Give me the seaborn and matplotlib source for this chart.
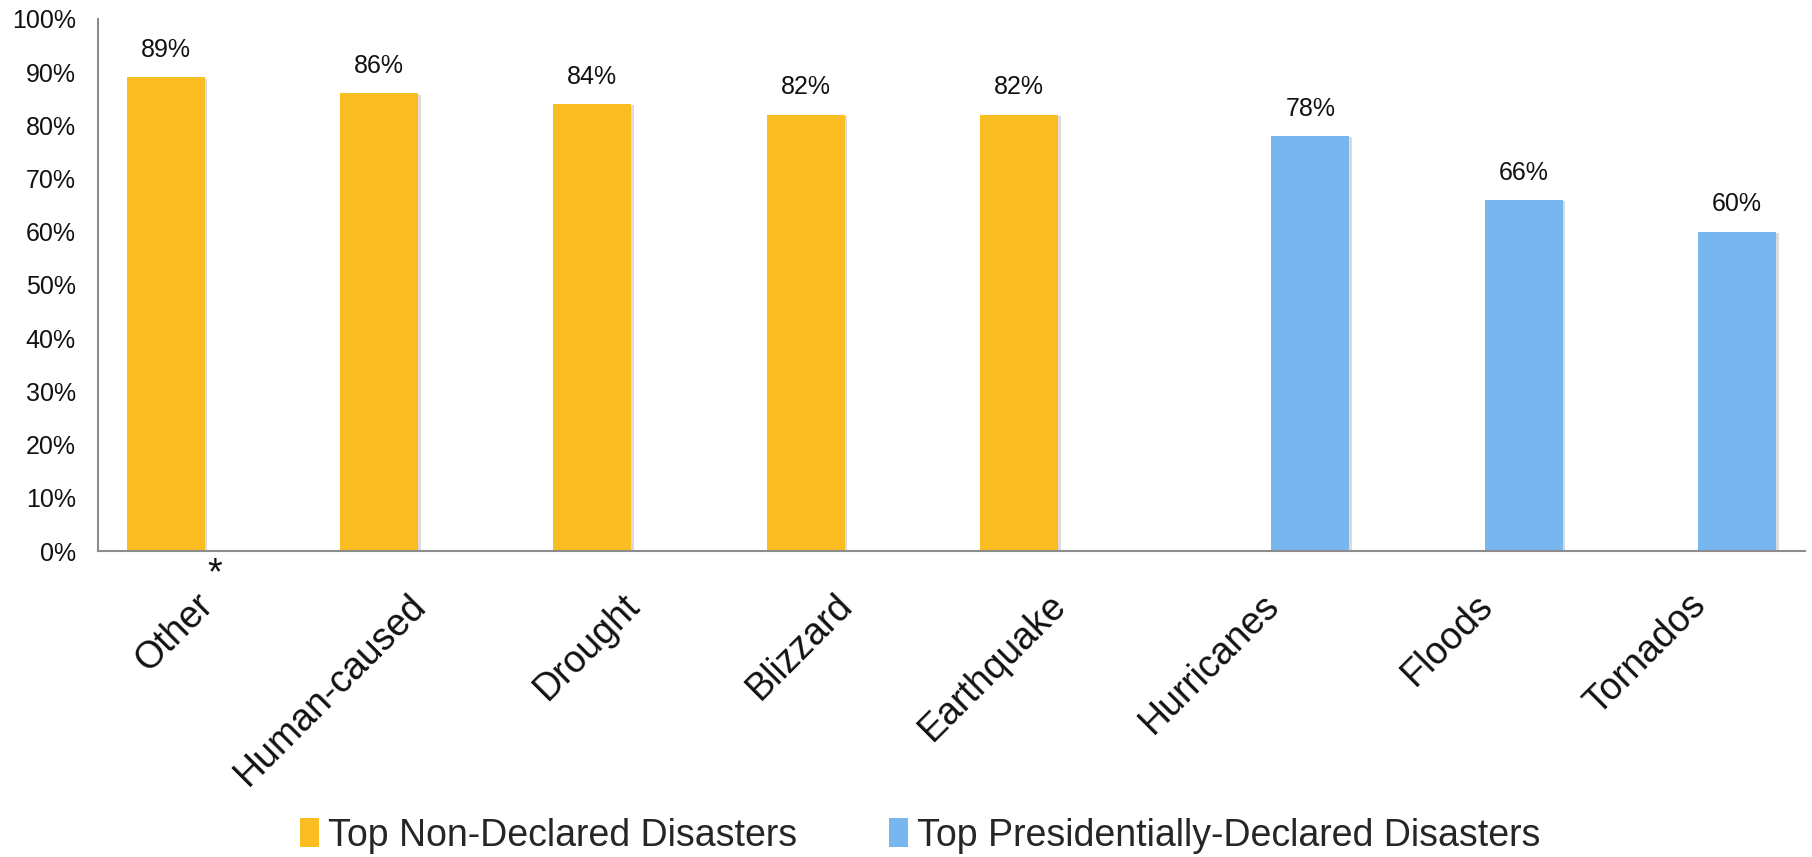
import matplotlib
matplotlib.use("Agg")
import matplotlib.pyplot as plt
import matplotlib.patheffects as pe
import matplotlib.transforms as mtransforms
from matplotlib.patches import Patch
import pandas as pd
import seaborn as sns

categories = ["Other", "Human-caused", "Drought", "Blizzard", "Earthquake",
              "Hurricanes", "Floods", "Tornados"]
values = [89, 86, 84, 82, 82, 78, 66, 60]
groups = ["Top Non-Declared Disasters"] * 5 + ["Top Presidentially-Declared Disasters"] * 3
group_order = ["Top Non-Declared Disasters", "Top Presidentially-Declared Disasters"]
colors = ["#FABE22", "#78B6F0"]
y_ticks = [0, 10, 20, 30, 40, 50, 60, 70, 80, 90, 100]
footnote_mark = "*"

df = pd.DataFrame({"category": categories, "value": values, "group": groups})

sns.set_theme(style="white")
plt.rcParams["font.family"] = ["Liberation Sans", "DejaVu Sans"]

fig = plt.figure(figsize=(18.12, 8.57), dpi=100)
ax = fig.add_axes([0.054, 0.357, 0.942, 0.621])

sns.barplot(data=df, x="category", y="value", hue="group", hue_order=group_order,
            order=categories, palette=colors, width=0.73, dodge=True,
            saturation=1, linewidth=0, legend=False, ax=ax)

shadow = [pe.SimplePatchShadow(offset=(2, -1), shadow_rgbFace="#9a9a9a", alpha=0.35),
          pe.Normal()]
for container in ax.containers:
    for bar in container:
        bar.set_path_effects(shadow)
    ax.bar_label(container, fmt="{:.0f}%", padding=11, fontsize=18, color="#111111")

ax.set_xlim(-0.5, len(categories) - 0.5)
ax.set_ylim(0, 100)
ax.set_yticks(y_ticks)
ax.set_yticklabels([f"{t}%" for t in y_ticks], fontsize=18, color="#111111")
ax.tick_params(axis="y", length=0, pad=16)
ax.tick_params(axis="x", length=0, pad=26)
ax.set_xlabel("")
ax.set_ylabel("")

offset = mtransforms.ScaledTranslation(-10 / 100, 0, fig.dpi_scale_trans)
for lbl in ax.get_xticklabels():
    lbl.set_rotation(45)
    lbl.set_ha("right")
    lbl.set_va("top")
    lbl.set_rotation_mode("anchor")
    lbl.set_fontsize(27)
    lbl.set_color("#111111")
    lbl.set_transform(lbl.get_transform() + offset)

# footnote marker beside the first category label
ax.annotate(footnote_mark, xy=(0, 0), xycoords=("data", "axes fraction"),
            xytext=(7, -4), textcoords="offset points", ha="center", va="top",
            fontsize=27, color="#111111", annotation_clip=False)

for side in ["top", "right"]:
    ax.spines[side].set_visible(False)
for side in ["left", "bottom"]:
    ax.spines[side].set_color("#8c8c8c")
    ax.spines[side].set_linewidth(1.5)

handles = [Patch(facecolor=c, edgecolor="none") for c in colors]
fig.legend(handles, group_order, loc="center", bbox_to_anchor=(0.508, 0.025),
           ncol=2, frameon=False, fontsize=27, handlelength=0.5, handleheight=0.8,
           handletextpad=0.25, columnspacing=2.45)

fig.savefig("out.png", dpi=100, facecolor="white")
